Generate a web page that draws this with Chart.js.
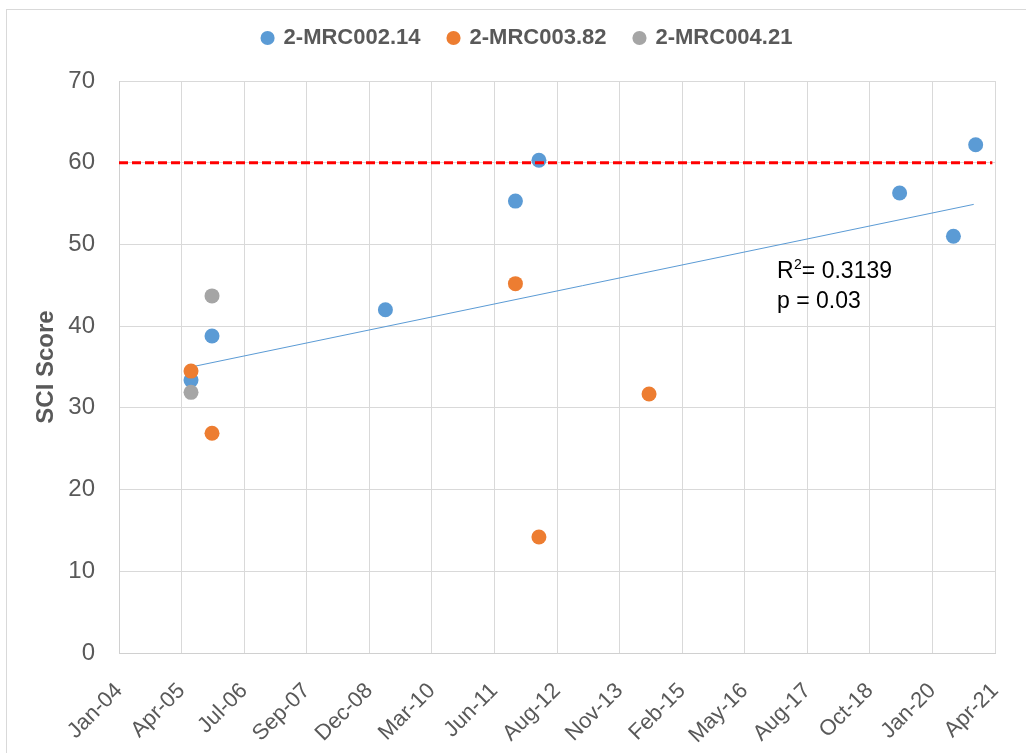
<!DOCTYPE html>
<html><head><meta charset="utf-8">
<script src="https://cdn.jsdelivr.net/npm/chart.js@4.4.0/dist/chart.umd.min.js"></script>
<style>
html,body{margin:0;padding:0;background:#fff;overflow:hidden;}
#wrap{position:relative;width:1026px;height:753px;}
#frame{position:absolute;left:6px;top:9px;width:1100px;height:900px;border:1px solid #d9d9d9;box-sizing:border-box;pointer-events:none;}
canvas{position:absolute;left:0;top:0;}
</style></head><body>
<div id="wrap"><canvas id="c" width="1026" height="753"></canvas><div id="frame"></div></div>
<script>
// ---- data ----
const tickLabels = ['Jan-04','Apr-05','Jul-06','Sep-07','Dec-08','Mar-10','Jun-11','Aug-12','Nov-13','Feb-15','May-16','Aug-17','Oct-18','Jan-20','Apr-21'];
const seriesNames = ['2-MRC002.14','2-MRC003.82','2-MRC004.21'];
const blueDates = ['2005-06-15','2005-11-13','2009-04-13','2011-11-04','2012-04-21','2019-05-29','2020-06-19','2020-11-26'];
const blueValues = [33.4,38.8,42.0,55.3,60.3,56.3,51.0,62.2];
const orangeDates = ['2005-06-15','2005-11-13','2011-11-04','2012-04-21','2014-06-22'];
const orangeValues = [34.5,26.9,45.2,14.2,31.7];
const grayDates = ['2005-06-15','2005-11-13'];
const grayValues = [31.9,43.7];
const trendDates = ['2005-06-15','2020-11-12'];
const trendValues = [35.0,54.9];
const thresholdDates = ['2004-01-14','2021-03-26'];
const thresholdValues = [60,60];
const axisStartDate = '2004-01-14';
const axisEndDate = '2021-04-14';
const axisStepDays = 450;
const yMin = 0, yMax = 70, yStep = 10;
const annotationLines = [{date:'2016-12-28', value:45.86, parts:['R','2','= 0.3139']},{date:'2016-12-28', value:42.2, parts:['p = 0.03']}];

// ---- helpers ----
const serial = d => Math.round((Date.parse(d) - Date.UTC(1899,11,30)) / 86400000);
const pts = (dates, vals) => dates.map((d,i) => ({x: serial(d), y: vals[i]}));
const xMin = serial(axisStartDate), xMax = serial(axisEndDate);

const FONT = "'Liberation Sans', Arial, sans-serif";
const TXT = '#595959';
const BLUE = '#5B9BD5', ORANGE = '#ED7D31', GRAY = '#A5A5A5';

const annotationPlugin = {
  id: 'annot',
  afterDatasetsDraw(chart) {
    const ctx = chart.ctx, xs = chart.scales.x, ys = chart.scales.y;
    ctx.save();
    ctx.fillStyle = '#000';
    ctx.textBaseline = 'alphabetic';
    annotationLines.forEach(line => {
      let px = xs.getPixelForValue(serial(line.date));
      const py = ys.getPixelForValue(line.value);
      if (line.parts.length === 3) {
        ctx.font = '23px ' + FONT;
        ctx.fillText(line.parts[0], px, py); px += ctx.measureText(line.parts[0]).width;
        ctx.font = '14px ' + FONT;
        ctx.fillText(line.parts[1], px + 0.5, py - 9); px += ctx.measureText(line.parts[1]).width + 0.5;
        ctx.font = '23px ' + FONT;
        ctx.fillText(line.parts[2], px, py);
      } else {
        ctx.font = '23px ' + FONT;
        ctx.fillText(line.parts[0], px, py);
      }
    });
    ctx.restore();
  }
};

// nudges the built-in legend box into the reference position
const legendShift = {
  id: 'legendShift',
  afterLayout(chart) {
    const lg = chart.legend; if (!lg) return;
    const dx = 30, dy = -22;
    lg.left += dx; lg.right += dx; lg.top += dy; lg.bottom += dy;
  }
};

const bg = { id:'bg', beforeDraw(chart){ const c=chart.ctx; c.save(); c.fillStyle='#fff'; c.fillRect(0,0,chart.width,chart.height); c.restore(); } };

const pointDs = (label, data, color, order) => ({
  label, data, order,
  backgroundColor: color, borderColor: color, borderWidth: 0,
  pointRadius: 7.5, pointHoverRadius: 7.5, pointStyle: 'circle', showLine: false
});

new Chart(document.getElementById('c'), {
  type: 'scatter',
  data: {
    datasets: [
      pointDs(seriesNames[0], pts(blueDates, blueValues), BLUE, 3),
      pointDs(seriesNames[1], pts(orangeDates, orangeValues), ORANGE, 2),
      pointDs(seriesNames[2], pts(grayDates, grayValues), GRAY, 1),
      { label: 'trend', data: pts(trendDates, trendValues), showLine: true, borderColor: BLUE, borderWidth: 1, pointRadius: 0, order: 4, fill: false },
      { label: 'threshold', data: pts(thresholdDates, thresholdValues), showLine: true, borderColor: '#FF0000', borderWidth: 3, borderDash: [9,4], pointRadius: 0, order: 0, fill: false }
    ]
  },
  options: {
    responsive: false,
    animation: false,
    devicePixelRatio: 1,
    layout: { padding: { top: 0, left: 0, right: 31, bottom: 0 } },
    plugins: {
      tooltip: { enabled: false },
      legend: {
        position: 'top',
        labels: {
          usePointStyle: true, boxWidth: 10, boxHeight: 10, padding: 28,
          color: TXT, font: { family: FONT, size: 22, weight: 'bold' },
          filter: item => item.datasetIndex < 3,
          sort: (a,b) => a.datasetIndex - b.datasetIndex
        }
      }
    },
    scales: {
      x: {
        type: 'linear', min: xMin, max: xMax,
        grid: { color: '#d9d9d9', lineWidth: 1, drawTicks: false },
        border: { color: '#d0d0d0', width: 1 },
        ticks: {
          stepSize: axisStepDays, autoSkip: false, maxRotation: 45, minRotation: 45,
          padding: 25, color: TXT, font: { family: FONT, size: 22 },
          callback: (v) => tickLabels[Math.round((v - xMin) / axisStepDays)]
        },
        afterFit: s => { s.height = 100; s.paddingLeft = 0; s.paddingRight = 0; }
      },
      y: {
        min: yMin, max: yMax,
        grid: { color: '#d9d9d9', lineWidth: 1, drawTicks: false },
        border: { color: '#d0d0d0', width: 1 },
        ticks: { stepSize: yStep, padding: 24, color: TXT, font: { family: FONT, size: 24 } },
        title: { display: true, text: 'SCI Score', color: TXT, font: { family: FONT, size: 24, weight: 'bold' }, padding: { top: 32, bottom: 0 } },
        afterFit: s => { s.width = 119; s.paddingTop = 81; s.paddingBottom = 0; }
      }
    }
  },
  plugins: [bg, legendShift, annotationPlugin]
});
</script>
</body></html>
